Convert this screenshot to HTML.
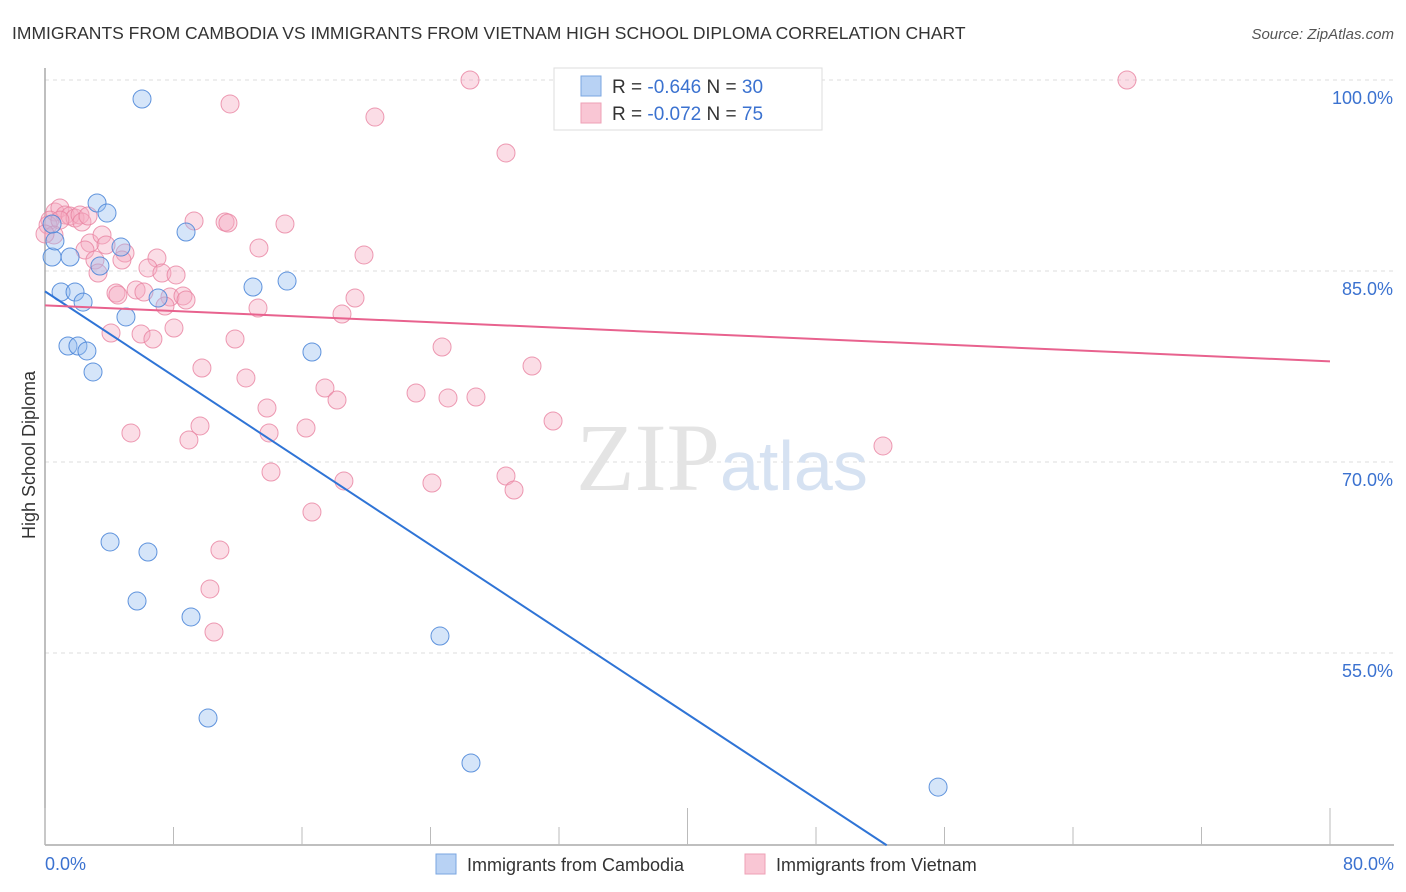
<!DOCTYPE html>
<html><head><meta charset="utf-8"><style>
body{margin:0;background:#fff;font-family:"Liberation Sans",sans-serif;}
svg{display:block}
</style></head><body>
<svg id="chart" width="1406" height="892">
<text x="12" y="39" font-size="17.5" fill="#333">IMMIGRANTS FROM CAMBODIA VS IMMIGRANTS FROM VIETNAM HIGH SCHOOL DIPLOMA CORRELATION CHART</text>
<text x="1394" y="39" font-size="15" fill="#555" font-style="italic" text-anchor="end">Source: ZipAtlas.com</text>
<g id="grid"></g>
<text x="720" y="490" font-size="96" font-family="Liberation Serif" fill="#e4e4e4" text-anchor="end">ZIP</text>
<text x="720" y="490" font-size="70" fill="#d6e2f2">atlas</text>
<line x1="45" y1="68" x2="45" y2="845" stroke="#aaa" stroke-width="1.5"/>
<line x1="45" y1="845" x2="1394" y2="845" stroke="#aaa" stroke-width="1.5"/>
<g id="ticks"></g>
<g id="pts"></g>
<g id="trends"></g>
<text x="35" y="455" font-size="18" fill="#333" text-anchor="middle" transform="rotate(-90 35 455)">High School Diploma</text>
<text x="45" y="870" font-size="18" fill="#3b72d0">0.0%</text>
<text x="1394" y="870" font-size="18" fill="#3b72d0" text-anchor="end">80.0%</text>
<g>
<rect x="554" y="68" width="268" height="62" fill="#fff" stroke="#ddd"/>
<rect x="581" y="76" width="20" height="20" fill="#b8d2f4" stroke="#7aa6e0"/>
<rect x="581" y="103" width="20" height="20" fill="#f9c6d4" stroke="#eea0b6"/>
<text x="612" y="93" font-size="19" fill="#333">R = <tspan fill="#3b72d0">-0.646</tspan>   N = <tspan fill="#3b72d0">30</tspan></text>
<text x="612" y="120" font-size="19" fill="#333">R = <tspan fill="#3b72d0">-0.072</tspan>   N = <tspan fill="#3b72d0">75</tspan></text>
</g>
<g>
<rect x="436" y="854" width="20" height="20" fill="#b8d2f4" stroke="#7aa6e0"/>
<text x="467" y="871" font-size="18" fill="#333">Immigrants from Cambodia</text>
</g>
<g>
<rect x="745" y="854" width="20" height="20" fill="#f9c6d4" stroke="#eea0b6"/>
<text x="776" y="871" font-size="18" fill="#333">Immigrants from Vietnam</text>
</g>
</svg>
<script>
const yTicks=[100,85,70,55];
const yTickLabels=["100.0%","85.0%","70.0%","55.0%"];
const xTicks=[0,8,16,24,32,40,48,56,64,72,80];
const cambodiaPx=[[142,99],[52,257],[55,241],[52,224],[70,257],[97,203],[107,213],[121,247],[100,266],[186,232],[61,292],[75,292],[83,302],[126,317],[158,298],[253,287],[287,281],[68,346],[78,346],[87,351],[93,372],[312,352],[110,542],[148,552],[137,601],[191,617],[440,636],[208,718],[471,763],[938,787]];
const vietnamPx=[[470,80],[1127,80],[230,104],[375,117],[506,153],[55,212],[60,208],[65,215],[70,216],[75,218],[80,215],[50,220],[48,225],[60,220],[82,222],[88,216],[54,235],[45,234],[194,221],[225,222],[228,223],[285,224],[90,243],[102,235],[106,245],[85,250],[125,253],[95,260],[98,273],[122,260],[157,258],[259,248],[364,255],[148,268],[162,273],[176,275],[116,293],[136,290],[144,292],[118,295],[170,297],[183,296],[186,300],[165,306],[258,308],[342,314],[355,298],[111,333],[141,334],[153,339],[174,328],[235,339],[442,347],[532,366],[202,368],[246,378],[325,388],[416,393],[448,398],[476,397],[337,400],[267,408],[553,421],[131,433],[200,426],[189,440],[269,433],[306,428],[271,472],[344,481],[432,483],[506,476],[514,490],[312,512],[883,446],[220,550],[210,589],[214,632]];
// convert to data values (x %, y %)
const cambodiaX=cambodiaPx.map(p=>+((p[0]-45)/16.0625).toFixed(2));
const cambodiaY=cambodiaPx.map(p=>+(100-(p[1]-80)/12.733).toFixed(2));
const vietnamX=vietnamPx.map(p=>+((p[0]-45)/16.0625).toFixed(2));
const vietnamY=vietnamPx.map(p=>+(100-(p[1]-80)/12.733).toFixed(2));
const cambodiaTrend=[[0,83.4],[52.4,39.9]];
const vietnamTrend=[[0,82.3],[80,77.9]];
const NS="http://www.w3.org/2000/svg";
const X=v=>45+v*16.0625, Y=v=>80+(100-v)*12.733;
function mk(t,a,parent){const e=document.createElementNS(NS,t);for(const k in a)e.setAttribute(k,a[k]);parent.appendChild(e);return e;}
const grid=document.getElementById('grid');
yTicks.forEach((v,i)=>{
 const l=mk('line',{x1:45,x2:1394,y1:Y(v),y2:Y(v),stroke:'#ddd','stroke-dasharray':'4,4'},grid);
 
 
 const t=mk('text',{x:1393,y:Y(v)+24,'font-size':18,fill:'#3b72d0','text-anchor':'end'},grid);
 t.textContent=yTickLabels[i];
 
 
});
const ticks=document.getElementById('ticks');
xTicks.forEach((v,i)=>{
 const major=(i%5===0);
 const l=mk('line',{x1:X(v),x2:X(v),y1:major?808:827,y2:845,stroke:'#bbb'},ticks);
 
 
});
const pts=document.getElementById('pts');
vietnamX.forEach((x,i)=>{
 const c=mk('circle',{cx:X(x),cy:Y(vietnamY[i]),r:9,fill:'rgba(245,170,192,0.4)',stroke:'rgba(232,130,160,0.8)','stroke-width':1},pts);
 
 
});
cambodiaX.forEach((x,i)=>{
 const c=mk('circle',{cx:X(x),cy:Y(cambodiaY[i]),r:9,fill:'rgba(150,190,240,0.4)',stroke:'rgba(70,130,215,0.85)','stroke-width':1},pts);
 
 
});
const tr=document.getElementById('trends');
const l1=mk('line',{x1:X(cambodiaTrend[0][0]),y1:Y(cambodiaTrend[0][1]),x2:X(cambodiaTrend[1][0]),y2:Y(cambodiaTrend[1][1]),stroke:'#2f74d6','stroke-width':2},tr);


const l2=mk('line',{x1:X(vietnamTrend[0][0]),y1:Y(vietnamTrend[0][1]),x2:X(vietnamTrend[1][0]),y2:Y(vietnamTrend[1][1]),stroke:'#e8628e','stroke-width':2},tr);


</script>
</body></html>
